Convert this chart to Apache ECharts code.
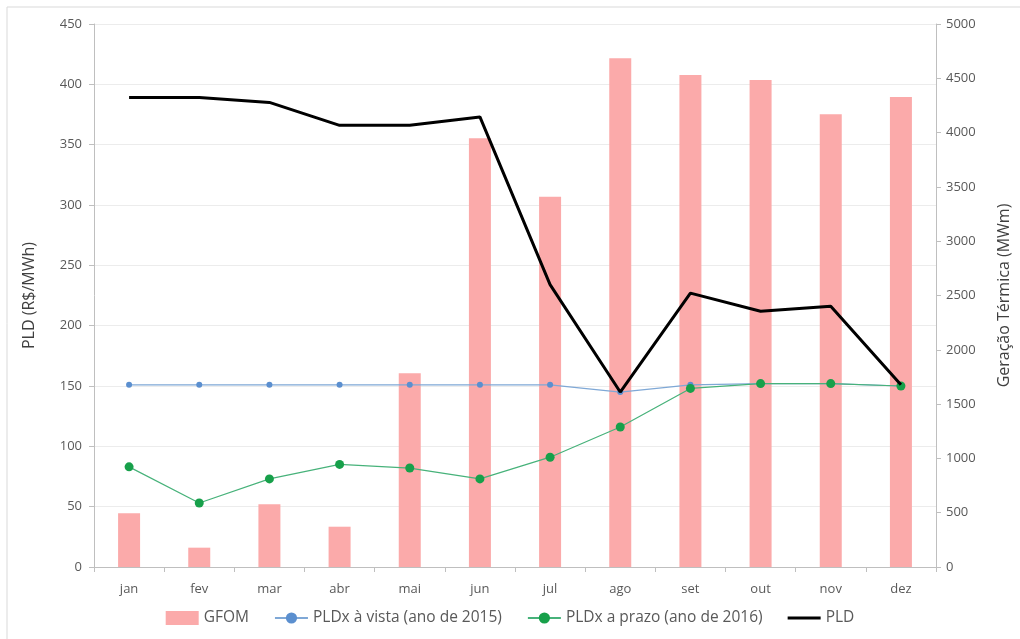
<!DOCTYPE html>
<html><head><meta charset="utf-8">
<script src="https://cdn.jsdelivr.net/npm/echarts@6/dist/echarts.min.js"></script>
<style>html,body{margin:0;padding:0;background:#fff}#c{width:1020px;height:639px}</style>
</head><body><div id="c"></div>
<script>
const months = ['jan','fev','mar','abr','mai','jun','jul','ago','set','out','nov','dez'];
const gfom = [494, 178, 577, 371, 1783, 3947, 3410, 4684, 4530, 4484, 4168, 4328];
const pldxVista = [151, 151, 151, 151, 151, 151, 151, 145, 151, 152, 152, 150];
const pldxPrazo = [83, 53, 73, 85, 82, 73, 91, 116, 148, 152, 152, 150];
const pld = [389, 389, 385, 366, 366, 373, 234, 145, 227, 212, 216, 151];
const leftTicks = {min: 0, max: 450, interval: 50};
const rightTicks = {min: 0, max: 5000, interval: 500};

const font = '"Open Sans", sans-serif';
const chart = echarts.init(document.getElementById('c'));
chart.setOption({
  animation: false,
  backgroundColor: '#fff',
  graphic: [{type: 'rect', shape: {x: 7, y: 7, width: 1030, height: 640}, style: {fill: 'none', stroke: '#d9d9d9', lineWidth: 1}}],
  grid: {left: 94, right: 83, top: 24, bottom: 72},
  legend: {
    bottom: 8, left: 'center', itemGap: 25, itemWidth: 33, itemHeight: 14,
    textStyle: {fontFamily: font, fontSize: 15.5, color: '#595959'},
    data: [
      {name: 'GFOM', icon: 'rect', itemStyle: {color: '#fbaaaa'}},
      {name: 'PLDx à vista (ano de 2015)'},
      {name: 'PLDx a prazo (ano de 2016)'},
      {name: 'PLD', icon: 'path://M0,0 L32,0 L32,3 L0,3 Z', itemStyle: {color: '#000'}}
    ]
  },
  xAxis: {
    type: 'category', data: months, boundaryGap: true,
    axisLine: {lineStyle: {color: '#bfbfbf'}},
    axisTick: {show: true, length: 5, lineStyle: {color: '#bfbfbf'}},
    axisLabel: {fontFamily: font, fontSize: 13, color: '#595959', margin: 16}
  },
  yAxis: [
    {
      type: 'value', min: leftTicks.min, max: leftTicks.max, interval: leftTicks.interval,
      name: 'PLD (R$/MWh)', nameLocation: 'middle', nameGap: 57,
      nameTextStyle: {fontFamily: font, fontSize: 16, color: '#404040'},
      axisLine: {show: true, lineStyle: {color: '#bfbfbf'}},
      axisTick: {show: true, length: 5, lineStyle: {color: '#bfbfbf'}},
      axisLabel: {fontFamily: font, fontSize: 13, color: '#595959', margin: 12},
      splitLine: {lineStyle: {color: '#ececec'}}
    },
    {
      type: 'value', min: rightTicks.min, max: rightTicks.max, interval: rightTicks.interval,
      name: 'Geração Térmica (MWm)', nameLocation: 'middle', nameGap: 60,
      nameTextStyle: {fontFamily: font, fontSize: 16, color: '#404040'},
      axisLine: {show: true, lineStyle: {color: '#bfbfbf'}},
      axisTick: {show: true, length: 5, lineStyle: {color: '#bfbfbf'}},
      axisLabel: {fontFamily: font, fontSize: 13, color: '#595959', margin: 10, formatter: v => String(v)},
      splitLine: {show: false}
    }
  ],
  series: [
    {name: 'GFOM', type: 'bar', yAxisIndex: 1, data: gfom, barWidth: 22,
     itemStyle: {color: '#fbaaaa'}, z: 1},
    {name: 'PLDx à vista (ano de 2015)', type: 'line', data: pldxVista,
     symbol: 'circle', symbolSize: 6,
     lineStyle: {color: '#7fa8d6', width: 1.2}, itemStyle: {color: '#5b8fcf'}, z: 3},
    {name: 'PLDx a prazo (ano de 2016)', type: 'line', data: pldxPrazo,
     symbol: 'circle', symbolSize: 9,
     lineStyle: {color: '#47b27a', width: 1.2}, itemStyle: {color: '#17a04a'}, z: 4},
    {name: 'PLD', type: 'line', data: pld, symbol: 'none',
     lineStyle: {color: '#000', width: 3}, itemStyle: {color: '#000'}, z: 5}
  ]
});
</script></body></html>
